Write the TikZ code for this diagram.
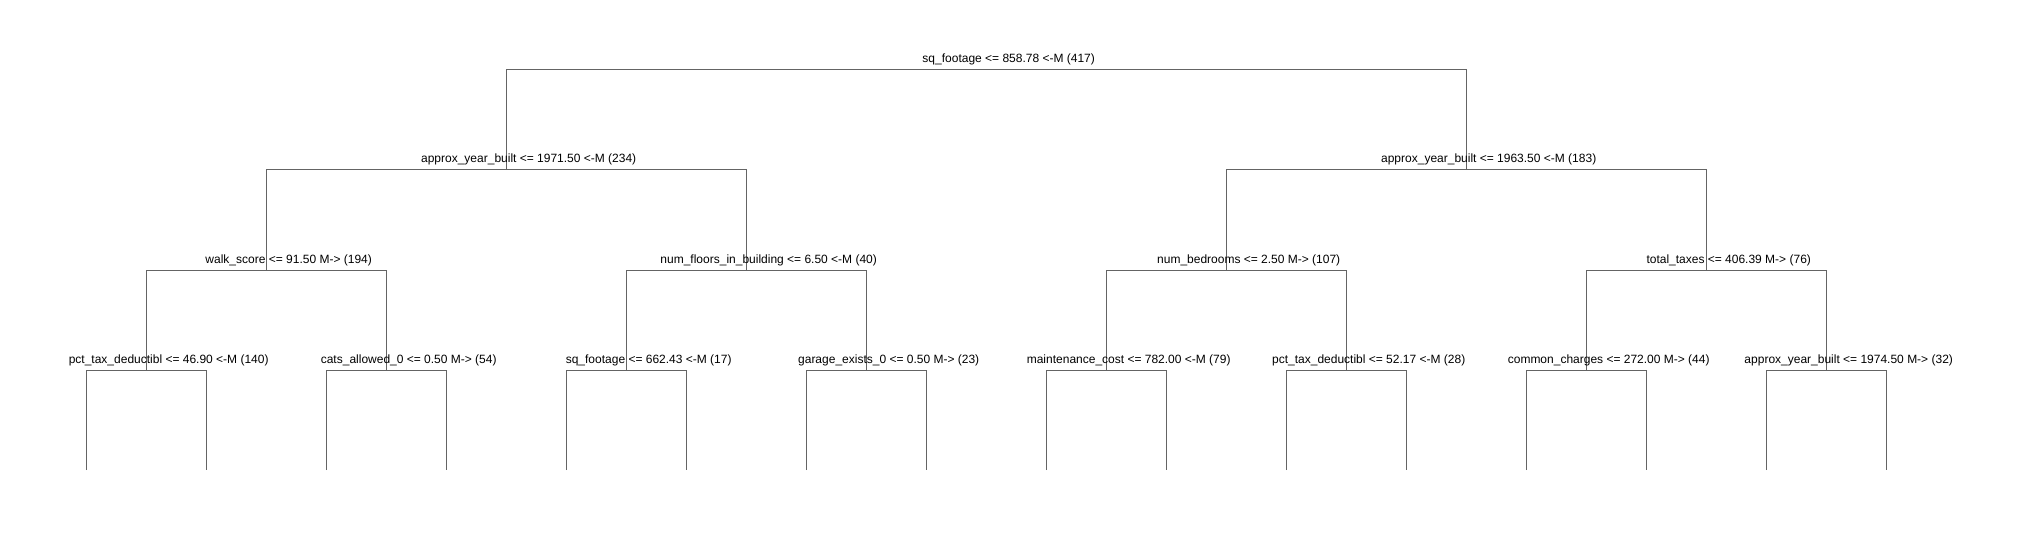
\documentclass[tikz,border=0pt]{standalone}
\usepackage{fontspec}
\setmainfont{Liberation Sans}
\definecolor{linegray}{RGB}{100,100,100}
\begin{document}
\begin{tikzpicture}[x=1pt,y=-1pt,
  edge/.style={draw=linegray,line width=1pt},
  lbl/.style={anchor=base,inner sep=0pt,font=\fontsize{12}{14}\selectfont,text=black}]
\useasboundingbox (0,0) rectangle (2025,540);
% internal nodes
\coordinate (r) at (986.7,70);
\coordinate (a) at (506.7,170);
\coordinate (b) at (1466.7,170);
\coordinate (aa) at (266.7,270);
\coordinate (ab) at (746.7,270);
\coordinate (ba) at (1226.7,270);
\coordinate (bb) at (1706.7,270);
\coordinate (aaa) at (146.7,370);
\coordinate (aab) at (386.7,370);
\coordinate (aba) at (626.7,370);
\coordinate (abb) at (866.7,370);
\coordinate (baa) at (1106.7,370);
\coordinate (bab) at (1346.7,370);
\coordinate (bba) at (1586.7,370);
\coordinate (bbb) at (1826.7,370);
% leaves
\foreach \i in {0,...,15} {\coordinate (leaf\i) at ({86.7+120*\i},470);}
% connectors
\newcommand{\split}[3]{\draw[edge] (#2) -- (#2 |- #1) -- (#3 |- #1) -- (#3);}
\split{r}{a}{b}
\split{a}{aa}{ab}
\split{b}{ba}{bb}
\split{aa}{aaa}{aab}
\split{ab}{aba}{abb}
\split{ba}{baa}{bab}
\split{bb}{bba}{bbb}
\split{aaa}{leaf0}{leaf1}
\split{aab}{leaf2}{leaf3}
\split{aba}{leaf4}{leaf5}
\split{abb}{leaf6}{leaf7}
\split{baa}{leaf8}{leaf9}
\split{bab}{leaf10}{leaf11}
\split{bba}{leaf12}{leaf13}
\split{bbb}{leaf14}{leaf15}
% labels
\node[lbl] (lr) at ([xshift=22pt,yshift=7pt]r) {sq\_footage <= 858.78 <-M (417)};
\node[lbl] (la) at ([xshift=22pt,yshift=7pt]a) {approx\_year\_built <= 1971.50 <-M (234)};
\node[lbl] (lb) at ([xshift=22pt,yshift=7pt]b) {approx\_year\_built <= 1963.50 <-M (183)};
\node[lbl] (laa) at ([xshift=22pt,yshift=7pt]aa) {walk\_score <= 91.50 M-> (194)};
\node[lbl] (lab) at ([xshift=22pt,yshift=7pt]ab) {num\_floors\_in\_building <= 6.50 <-M (40)};
\node[lbl] (lba) at ([xshift=22pt,yshift=7pt]ba) {num\_bedrooms <= 2.50 M-> (107)};
\node[lbl] (lbb) at ([xshift=22pt,yshift=7pt]bb) {total\_taxes <= 406.39 M-> (76)};
\node[lbl] (laaa) at ([xshift=22pt,yshift=7pt]aaa) {pct\_tax\_deductibl <= 46.90 <-M (140)};
\node[lbl] (laab) at ([xshift=22pt,yshift=7pt]aab) {cats\_allowed\_0 <= 0.50 M-> (54)};
\node[lbl] (laba) at ([xshift=22pt,yshift=7pt]aba) {sq\_footage <= 662.43 <-M (17)};
\node[lbl] (labb) at ([xshift=22pt,yshift=7pt]abb) {garage\_exists\_0 <= 0.50 M-> (23)};
\node[lbl] (lbaa) at ([xshift=22pt,yshift=7pt]baa) {maintenance\_cost <= 782.00 <-M (79)};
\node[lbl] (lbab) at ([xshift=22pt,yshift=7pt]bab) {pct\_tax\_deductibl <= 52.17 <-M (28)};
\node[lbl] (lbba) at ([xshift=22pt,yshift=7pt]bba) {common\_charges <= 272.00 M-> (44)};
\node[lbl] (lbbb) at ([xshift=22pt,yshift=7pt]bbb) {approx\_year\_built <= 1974.50 M-> (32)};
\end{tikzpicture}
\end{document}
